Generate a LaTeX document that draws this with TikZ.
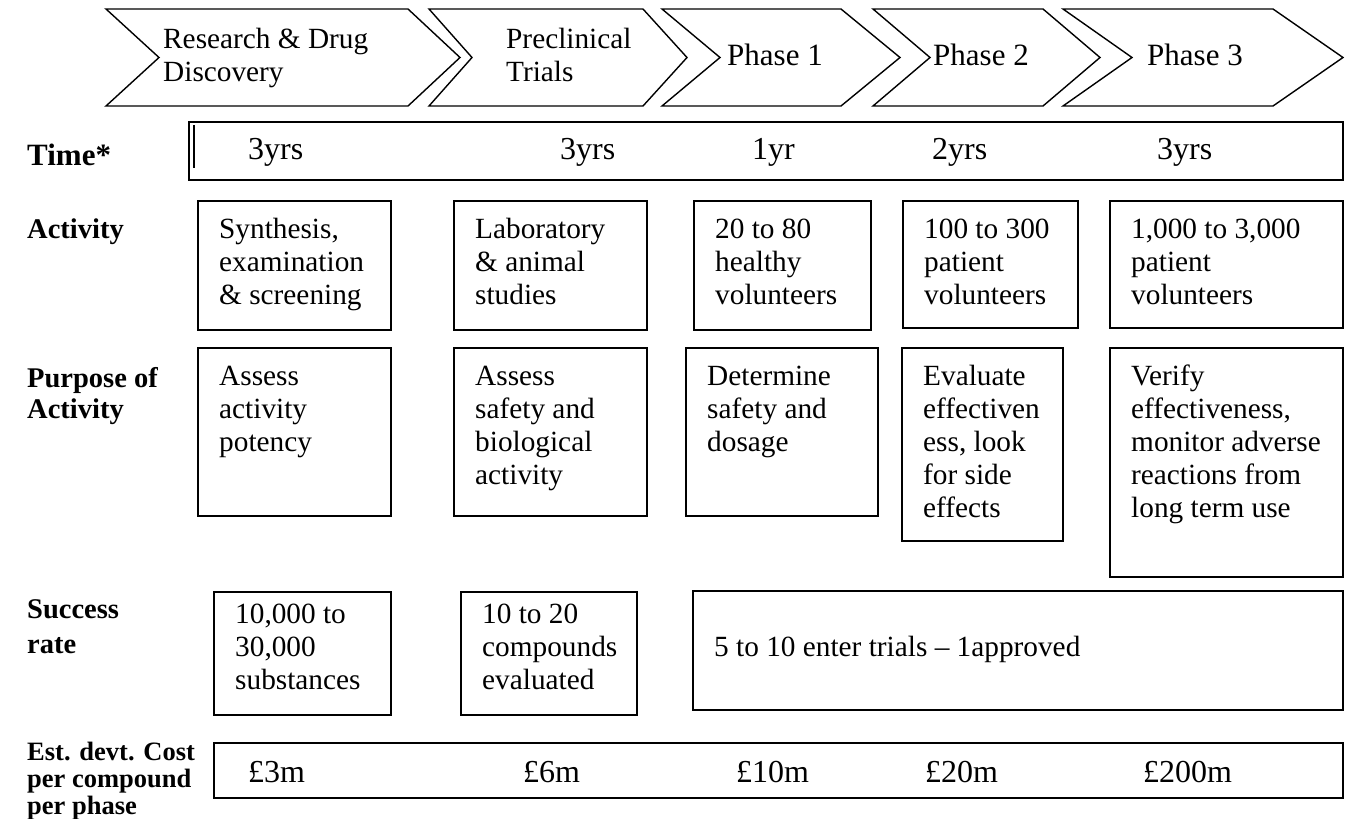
\documentclass[tikz,border=0pt]{standalone}
\usepackage{fontspec}
\setmainfont{Liberation Serif}
\begin{document}
\begin{tikzpicture}[x=1pt,y=-1pt,
  chev/.style={draw=black,line width=1.4pt,line join=miter},
  box/.style={draw=black,line width=1.4pt,inner sep=0pt,outer sep=0pt,anchor=north west},
  txt/.style={inner sep=0pt,anchor=base west,font=\fontsize{29.3}{33}\selectfont},
  ctxt/.style={inner sep=0pt,anchor=base west,font=\fontsize{29.3}{33}\selectfont},
  ptxt/.style={inner sep=0pt,anchor=base west,font=\fontsize{31}{35}\selectfont},
  lbl/.style={inner sep=0pt,anchor=base west,font=\bfseries\fontsize{28.5}{31}\selectfont},
  big/.style={inner sep=0pt,anchor=base west,font=\fontsize{32}{36}\selectfont}]
\useasboundingbox (0,0) rectangle (1349,819);

% ---- chevrons ----
\draw[chev] (106,9) -- (408,9) -- (460,57.5) -- (408,106) -- (106,106) -- (159,57.5) -- cycle;
\draw[chev] (429,9) -- (643,9) -- (687,57.5) -- (643,106) -- (429,106) -- (472,57.5) -- cycle;
\draw[chev] (662,9) -- (841,9) -- (900,57.5) -- (841,106) -- (662,106) -- (720,57.5) -- cycle;
\draw[chev] (873,9) -- (1043,9) -- (1100,57.5) -- (1043,106) -- (873,106) -- (930,57.5) -- cycle;
\draw[chev] (1063,9) -- (1273,9) -- (1343,57.5) -- (1273,106) -- (1063,106) -- (1132,57.5) -- cycle;
\node[ctxt] (c1) at (163,48) {\begin{tabular}[t]{@{}l@{}}Research \& Drug\\Discovery\end{tabular}};
\node[ctxt] (c2) at (506,48) {\begin{tabular}[t]{@{}l@{}}Preclinical\\Trials\end{tabular}};
\node[ptxt] (c3) at (727,65) {Phase 1};
\node[ptxt] (c4) at (933,65) {Phase 2};
\node[ptxt] (c5) at (1147,65) {Phase 3};

% ---- row labels ----
\node[lbl,font=\bfseries\fontsize{31}{34}\selectfont] (lTime) at (27,165) {Time*};
\node[lbl] (lAct) at (27,238) {Activity};
\node[lbl] (lPur) at (27,387) {\begin{tabular}[t]{@{}l@{}}Purpose of\\Activity\end{tabular}};
\node[lbl,font=\bfseries\fontsize{28.5}{35}\selectfont] (lSuc) at (27,618) {\begin{tabular}[t]{@{}l@{}}Success\\rate\end{tabular}};
\node[lbl,font=\bfseries\fontsize{26.5}{27}\selectfont] (lCost) at (27,760) {\begin{tabular}[t]{@{}l@{}}Est. devt. Cost\\per compound\\per phase\end{tabular}};

% ---- time bar ----
\node[box,minimum width=1154pt,minimum height=58pt] (tbar) at (189,122) {};
\draw[line width=1.4pt] (194,125) -- (194,168);
\node[big] (t1) at (248,159) {3yrs};
\node[big] (t2) at (560,159) {3yrs};
\node[big] (t3) at (752,159) {1yr};
\node[big] (t4) at (932,159) {2yrs};
\node[big] (t5) at (1157,159) {3yrs};

% ---- activity ----
\node[box,minimum width=193pt,minimum height=129pt] (a1) at (198,201) {};
\node[box,minimum width=193pt,minimum height=129pt] (a2) at (454,201) {};
\node[box,minimum width=177pt,minimum height=129pt] (a3) at (694,201) {};
\node[box,minimum width=175pt,minimum height=127pt] (a4) at (903,201) {};
\node[box,minimum width=233pt,minimum height=127pt] (a5) at (1110,201) {};
\node[txt] (at1) at (219,238) {\begin{tabular}[t]{@{}l@{}}Synthesis,\\examination\\\& screening\end{tabular}};
\node[txt] (at2) at (475,238) {\begin{tabular}[t]{@{}l@{}}Laboratory\\\& animal\\studies\end{tabular}};
\node[txt] (at3) at (715,238) {\begin{tabular}[t]{@{}l@{}}20 to 80\\healthy\\volunteers\end{tabular}};
\node[txt] (at4) at (924,238) {\begin{tabular}[t]{@{}l@{}}100 to 300\\patient\\volunteers\end{tabular}};
\node[txt] (at5) at (1131,238) {\begin{tabular}[t]{@{}l@{}}1,000 to 3,000\\patient\\volunteers\end{tabular}};

% ---- purpose ----
\node[box,minimum width=193pt,minimum height=168pt] (p1) at (198,348) {};
\node[box,minimum width=193pt,minimum height=168pt] (p2) at (454,348) {};
\node[box,minimum width=192pt,minimum height=168pt] (p3) at (686,348) {};
\node[box,minimum width=161pt,minimum height=193pt] (p4) at (902,348) {};
\node[box,minimum width=233pt,minimum height=229pt] (p5) at (1110,348) {};
\node[txt] (pt1) at (219,385) {\begin{tabular}[t]{@{}l@{}}Assess\\activity\\potency\end{tabular}};
\node[txt] (pt2) at (475,385) {\begin{tabular}[t]{@{}l@{}}Assess\\safety and\\biological\\activity\end{tabular}};
\node[txt] (pt3) at (707,385) {\begin{tabular}[t]{@{}l@{}}Determine\\safety and\\dosage\end{tabular}};
\node[txt] (pt4) at (923,385) {\begin{tabular}[t]{@{}l@{}}Evaluate\\effectiven\\ess, look\\for side\\effects\end{tabular}};
\node[txt] (pt5) at (1131,385) {\begin{tabular}[t]{@{}l@{}}Verify\\effectiveness,\\monitor adverse\\reactions from\\long term use\end{tabular}};

% ---- success rate ----
\node[box,minimum width=177pt,minimum height=123pt] (s1) at (214,592) {};
\node[box,minimum width=176pt,minimum height=123pt] (s2) at (461,592) {};
\node[box,minimum width=650pt,minimum height=119pt] (s3) at (693,591) {};
\node[txt] (st1) at (235,623) {\begin{tabular}[t]{@{}l@{}}10,000 to\\30,000\\substances\end{tabular}};
\node[txt] (st2) at (482,623) {\begin{tabular}[t]{@{}l@{}}10 to 20\\compounds\\evaluated\end{tabular}};
\node[txt] (st3) at (714,656) {5 to 10 enter trials \textendash{} 1approved};

% ---- cost ----
\node[box,minimum width=1129pt,minimum height=55pt] (cost) at (214,743) {};
\node[big] (k1) at (248,782) {£3m};
\node[big] (k2) at (523,782) {£6m};
\node[big] (k3) at (736,782) {£10m};
\node[big] (k4) at (925,782) {£20m};
\node[big] (k5) at (1143,782) {£200m};
\end{tikzpicture}
\end{document}
